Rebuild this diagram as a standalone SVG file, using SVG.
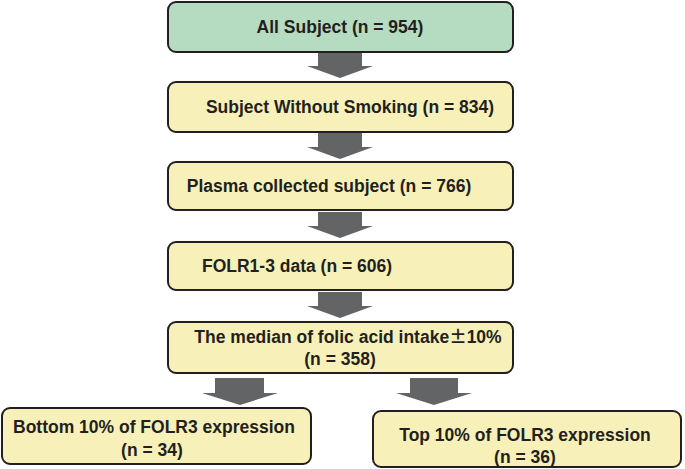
<svg xmlns="http://www.w3.org/2000/svg" width="685" height="469" viewBox="0 0 685 469">
<style>
.b{fill:#f7f1b9;stroke:#231f20;stroke-width:2}
.g{fill:#b5dcc0;stroke:#231f20;stroke-width:2}
.t{font-family:"Liberation Sans",Arial,sans-serif;font-weight:bold;font-size:17.5px;fill:#231f20;text-anchor:middle}
.a{fill:#636466}
</style>
<rect width="685" height="469" fill="#fff"/>
<g id="connectors">
<polygon class="a" points="318,53 362,53 362,66 373,66 340,78 307,66 318,66"/>
<polygon class="a" points="318,133 362,133 362,147 373,147 340,159 307,147 318,147"/>
<polygon class="a" points="318,212 362,212 362,226 373,226 340,238 307,226 318,226"/>
<polygon class="a" points="318,292 362,292 362,306 373,306 340,318 307,306 318,306"/>
<polygon class="a" points="215,378 264,378 264,393 278,393 240,405 202,393 215,393"/>
<polygon class="a" points="410,378 458,378 458,393 472,393 434,405 396,393 410,393"/>
</g>
<g id="n1"><rect class="g" x="168" y="2" width="345" height="50" rx="8"/><text class="t" x="340" y="33">All Subject (n = 954)</text></g>
<g id="n2"><rect class="b" x="168" y="82" width="345" height="50" rx="8"/><text class="t" x="350" y="113">Subject Without Smoking (n = 834)</text></g>
<g id="n3"><rect class="b" x="168" y="162" width="345" height="48" rx="8"/><text class="t" x="329" y="192">Plasma collected subject (n = 766)</text></g>
<g id="n4"><rect class="b" x="168" y="242" width="345" height="48" rx="8"/><text class="t" x="297" y="272">FOLR1-3 data (n = 606)</text></g>
<g id="n5"><rect class="b" x="168" y="322" width="345" height="51" rx="8"/><text class="t" x="348" y="343">The median of folic acid intake<tspan font-family="'Noto Sans CJK JP',sans-serif">±</tspan>10%</text><text class="t" x="340" y="365">(n = 358)</text></g>
<g id="n6"><rect class="b" x="2" y="408" width="309" height="56" rx="8"/><text class="t" x="154" y="433">Bottom 10% of FOLR3 expression</text><text class="t" x="152" y="456">(n = 34)</text></g>
<g id="n7"><rect class="b" x="373" y="411" width="308" height="56" rx="8"/><text class="t" x="525" y="441">Top 10% of FOLR3 expression</text><text class="t" x="525" y="463">(n = 36)</text></g>
</svg>
